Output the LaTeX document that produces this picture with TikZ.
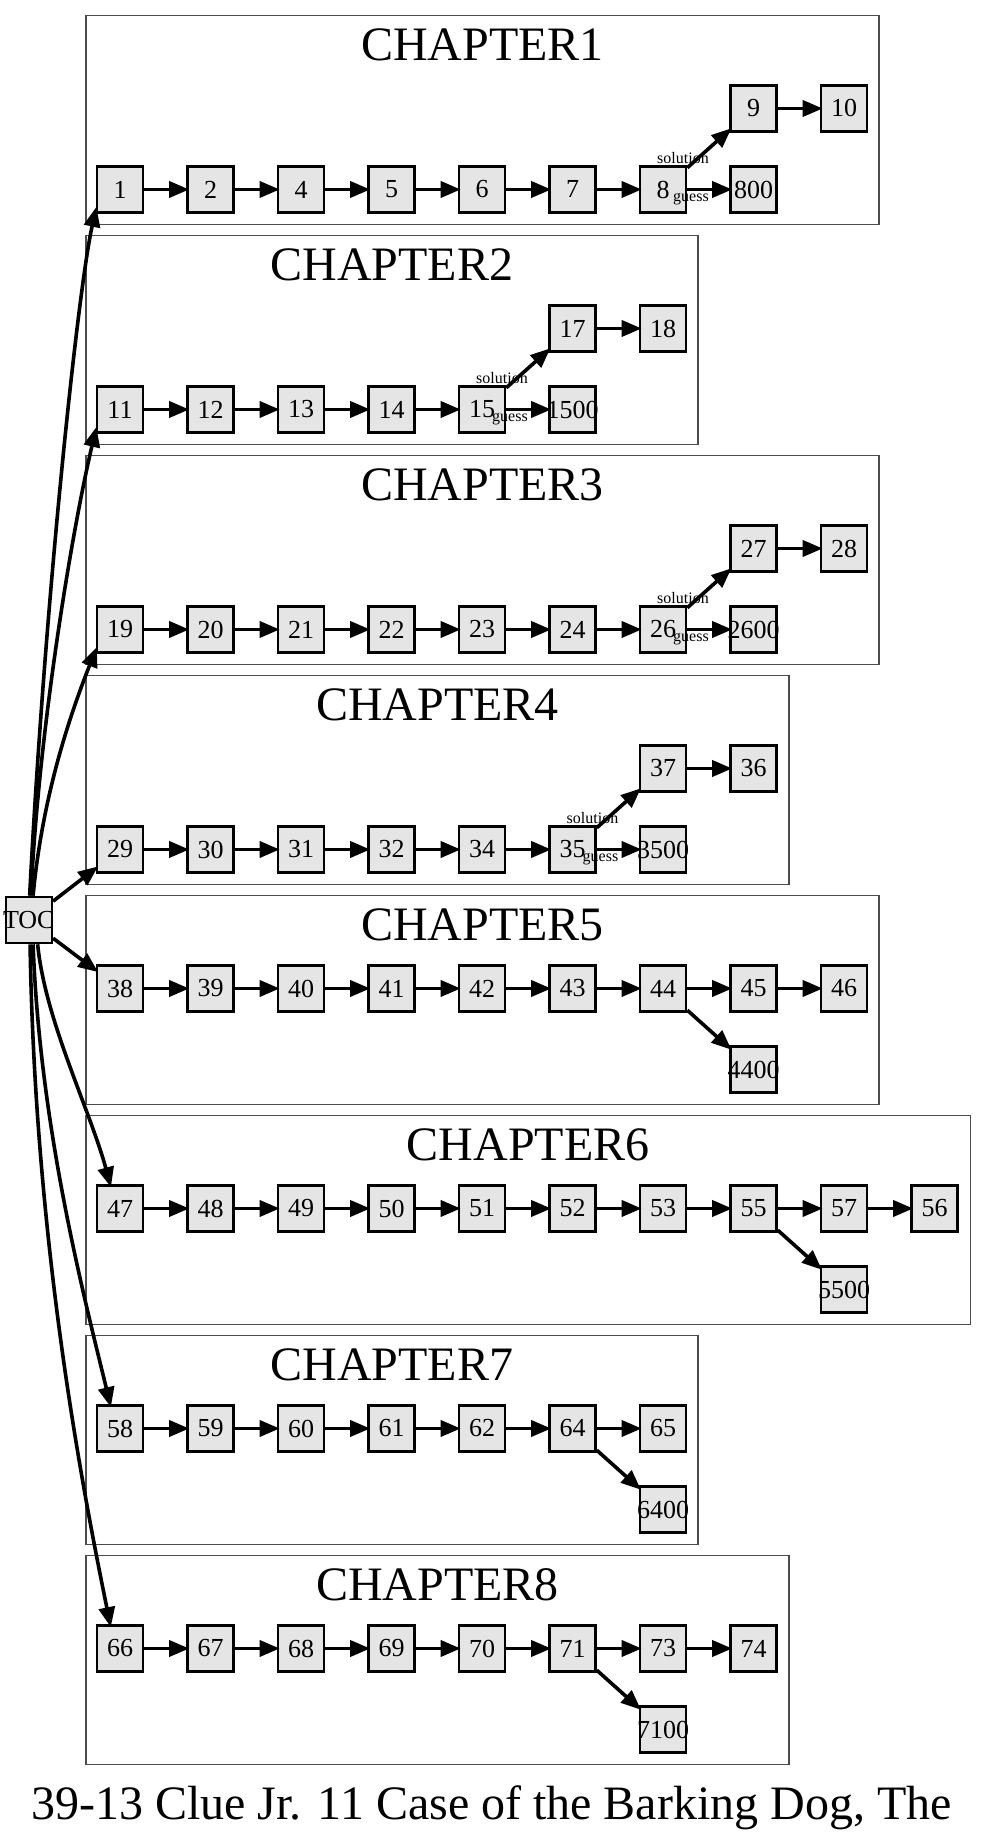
\documentclass[tikz,border=0pt]{standalone}
\usepackage{fontspec}
\setmainfont{Liberation Serif}
\usetikzlibrary{arrows.meta}
\tikzstyle{nS}=[rectangle,draw,fill=gray!20,line width=2.6pt,minimum size=46pt,inner sep=0pt,font=\fontsize{26}{26}\selectfont]
\tikzstyle{lNS}=[inner sep=0pt,font=\fontsize{16}{16}\selectfont]
\tikzstyle{tNS}=[inner sep=0pt,anchor=base,font=\fontsize{48}{48}\selectfont]
\tikzstyle{cBox}=[draw=black!70,line width=1.5pt]
\tikzstyle{eArr}=[line width=3.6pt,-{Triangle[length=20pt,width=16pt]},shorten >=-3pt]
\newcommand{\wlab}[1]{\makebox[0pt]{#1}}
\begin{document}
\begin{tikzpicture}[x=1pt,y=1pt]
                \fill[white] (0,0) rectangle (987,1840);
                \useasboundingbox (0,0) rectangle (987,1840);
                % chapter frames
                \draw[cBox] (86,1615.5) rectangle (879,1824.5);
                \draw[cBox] (86,1395.5) rectangle (698,1604.5);
                \draw[cBox] (86,1175.5) rectangle (879,1384.5);
                \draw[cBox] (86,955.5) rectangle (789,1164.5);
                \draw[cBox] (86,735.5) rectangle (879,944.5);
                \draw[cBox] (86,515.5) rectangle (970.5,724.5);
                \draw[cBox] (86,295.5) rectangle (698,504.5);
                \draw[cBox] (86,75.5) rectangle (789,284.5);
                \draw (482.5,1779) node[tNS] (t1) {CHAPTER1};
                \draw (392,1559) node[tNS] (t2) {CHAPTER2};
                \draw (482.5,1339) node[tNS] (t3) {CHAPTER3};
                \draw (437.5,1119) node[tNS] (t4) {CHAPTER4};
                \draw (482.5,899) node[tNS] (t5) {CHAPTER5};
                \draw (528.25,679) node[tNS] (t6) {CHAPTER6};
                \draw (392,459) node[tNS] (t7) {CHAPTER7};
                \draw (437.5,239) node[tNS] (t8) {CHAPTER8};
                % table of contents
                \draw (28.8,920) node[nS] (toc) {\wlab{TOC}};
                % chapter 1
                \draw (120,1650.5) node[nS] (n1) {1};
                \draw (210.5,1650.5) node[nS] (n2) {2};
                \draw (301,1650.5) node[nS] (n4) {4};
                \draw (391.5,1650.5) node[nS] (n5) {5};
                \draw (482,1650.5) node[nS] (n6) {6};
                \draw (572.5,1650.5) node[nS] (n7) {7};
                \draw (663,1650.5) node[nS] (n8) {8};
                \draw (753.5,1650.5) node[nS] (n800) {\wlab{800}};
                \draw (753.5,1731.5) node[nS] (n9) {9};
                \draw (844,1731.5) node[nS] (n10) {10};
                % chapter 2
                \draw (120,1430.5) node[nS] (n11) {11};
                \draw (210.5,1430.5) node[nS] (n12) {12};
                \draw (301,1430.5) node[nS] (n13) {13};
                \draw (391.5,1430.5) node[nS] (n14) {14};
                \draw (482,1430.5) node[nS] (n15) {15};
                \draw (572.5,1430.5) node[nS] (n1500) {\wlab{1500}};
                \draw (572.5,1511.5) node[nS] (n17) {17};
                \draw (663,1511.5) node[nS] (n18) {18};
                % chapter 3
                \draw (120,1210.5) node[nS] (n19) {19};
                \draw (210.5,1210.5) node[nS] (n20) {20};
                \draw (301,1210.5) node[nS] (n21) {21};
                \draw (391.5,1210.5) node[nS] (n22) {22};
                \draw (482,1210.5) node[nS] (n23) {23};
                \draw (572.5,1210.5) node[nS] (n24) {24};
                \draw (663,1210.5) node[nS] (n26) {26};
                \draw (753.5,1210.5) node[nS] (n2600) {\wlab{2600}};
                \draw (753.5,1291.5) node[nS] (n27) {27};
                \draw (844,1291.5) node[nS] (n28) {28};
                % chapter 4
                \draw (120,990.5) node[nS] (n29) {29};
                \draw (210.5,990.5) node[nS] (n30) {30};
                \draw (301,990.5) node[nS] (n31) {31};
                \draw (391.5,990.5) node[nS] (n32) {32};
                \draw (482,990.5) node[nS] (n34) {34};
                \draw (572.5,990.5) node[nS] (n35) {35};
                \draw (663,990.5) node[nS] (n3500) {\wlab{3500}};
                \draw (663,1071.5) node[nS] (n37) {37};
                \draw (753.5,1071.5) node[nS] (n36) {36};
                % chapter 5
                \draw (120,851.5) node[nS] (n38) {38};
                \draw (210.5,851.5) node[nS] (n39) {39};
                \draw (301,851.5) node[nS] (n40) {40};
                \draw (391.5,851.5) node[nS] (n41) {41};
                \draw (482,851.5) node[nS] (n42) {42};
                \draw (572.5,851.5) node[nS] (n43) {43};
                \draw (663,851.5) node[nS] (n44) {44};
                \draw (753.5,851.5) node[nS] (n45) {45};
                \draw (844,851.5) node[nS] (n46) {46};
                \draw (753.5,770.5) node[nS] (n4400) {\wlab{4400}};
                % chapter 6
                \draw (120,631.5) node[nS] (n47) {47};
                \draw (210.5,631.5) node[nS] (n48) {48};
                \draw (301,631.5) node[nS] (n49) {49};
                \draw (391.5,631.5) node[nS] (n50) {50};
                \draw (482,631.5) node[nS] (n51) {51};
                \draw (572.5,631.5) node[nS] (n52) {52};
                \draw (663,631.5) node[nS] (n53) {53};
                \draw (753.5,631.5) node[nS] (n55) {55};
                \draw (844,631.5) node[nS] (n57) {57};
                \draw (934.5,631.5) node[nS] (n56) {56};
                \draw (844,550.5) node[nS] (n5500) {\wlab{5500}};
                % chapter 7
                \draw (120,411.5) node[nS] (n58) {58};
                \draw (210.5,411.5) node[nS] (n59) {59};
                \draw (301,411.5) node[nS] (n60) {60};
                \draw (391.5,411.5) node[nS] (n61) {61};
                \draw (482,411.5) node[nS] (n62) {62};
                \draw (572.5,411.5) node[nS] (n64) {64};
                \draw (663,411.5) node[nS] (n65) {65};
                \draw (663,330.5) node[nS] (n6400) {\wlab{6400}};
                % chapter 8
                \draw (120,191.5) node[nS] (n66) {66};
                \draw (210.5,191.5) node[nS] (n67) {67};
                \draw (301,191.5) node[nS] (n68) {68};
                \draw (391.5,191.5) node[nS] (n69) {69};
                \draw (482,191.5) node[nS] (n70) {70};
                \draw (572.5,191.5) node[nS] (n71) {71};
                \draw (663,191.5) node[nS] (n73) {73};
                \draw (753.5,191.5) node[nS] (n74) {74};
                \draw (663,110.5) node[nS] (n7100) {\wlab{7100}};
                % branch labels
                \draw (683,1682) node[lNS] (s8) {solution};
                \draw (691,1641) node[lNS] (g8) {guess};
                \draw (502,1462) node[lNS] (s15) {solution};
                \draw (510,1421) node[lNS] (g15) {guess};
                \draw (683,1242) node[lNS] (s26) {solution};
                \draw (691,1201) node[lNS] (g26) {guess};
                \draw (592.5,1022) node[lNS] (s35) {solution};
                \draw (600.5,981) node[lNS] (g35) {guess};
                % caption
                \draw (491.5,20) node[tNS] (cap) {39-13 Clue Jr. 11 Case of the Barking Dog, The};
                \path
                    (n1) edge[eArr] (n2)
                    (n2) edge[eArr] (n4)
                    (n4) edge[eArr] (n5)
                    (n5) edge[eArr] (n6)
                    (n6) edge[eArr] (n7)
                    (n7) edge[eArr] (n8)
                    (n8) edge[eArr] (n9)
                    (n8) edge[eArr] (n800)
                    (n9) edge[eArr] (n10)
                    (n11) edge[eArr] (n12)
                    (n12) edge[eArr] (n13)
                    (n13) edge[eArr] (n14)
                    (n14) edge[eArr] (n15)
                    (n15) edge[eArr] (n17)
                    (n15) edge[eArr] (n1500)
                    (n17) edge[eArr] (n18)
                    (n19) edge[eArr] (n20)
                    (n20) edge[eArr] (n21)
                    (n21) edge[eArr] (n22)
                    (n22) edge[eArr] (n23)
                    (n23) edge[eArr] (n24)
                    (n24) edge[eArr] (n26)
                    (n26) edge[eArr] (n27)
                    (n26) edge[eArr] (n2600)
                    (n27) edge[eArr] (n28)
                    (n29) edge[eArr] (n30)
                    (n30) edge[eArr] (n31)
                    (n31) edge[eArr] (n32)
                    (n32) edge[eArr] (n34)
                    (n34) edge[eArr] (n35)
                    (n35) edge[eArr] (n37)
                    (n35) edge[eArr] (n3500)
                    (n37) edge[eArr] (n36)
                    (n38) edge[eArr] (n39)
                    (n39) edge[eArr] (n40)
                    (n40) edge[eArr] (n41)
                    (n41) edge[eArr] (n42)
                    (n42) edge[eArr] (n43)
                    (n43) edge[eArr] (n44)
                    (n44) edge[eArr] (n45)
                    (n44) edge[eArr] (n4400)
                    (n45) edge[eArr] (n46)
                    (n47) edge[eArr] (n48)
                    (n48) edge[eArr] (n49)
                    (n49) edge[eArr] (n50)
                    (n50) edge[eArr] (n51)
                    (n51) edge[eArr] (n52)
                    (n52) edge[eArr] (n53)
                    (n53) edge[eArr] (n55)
                    (n55) edge[eArr] (n57)
                    (n55) edge[eArr] (n5500)
                    (n57) edge[eArr] (n56)
                    (n58) edge[eArr] (n59)
                    (n59) edge[eArr] (n60)
                    (n60) edge[eArr] (n61)
                    (n61) edge[eArr] (n62)
                    (n62) edge[eArr] (n64)
                    (n64) edge[eArr] (n65)
                    (n64) edge[eArr] (n6400)
                    (n66) edge[eArr] (n67)
                    (n67) edge[eArr] (n68)
                    (n68) edge[eArr] (n69)
                    (n69) edge[eArr] (n70)
                    (n70) edge[eArr] (n71)
                    (n71) edge[eArr] (n73)
                    (n71) edge[eArr] (n7100)
                    (n73) edge[eArr] (n74)
                    (toc) edge[eArr] (n29)
                    (toc) edge[eArr] (n38)
                ;
                % curved links from the contents node
                \draw[eArr] (toc.88) .. controls (45,1240) and (78,1550) .. (n1.-140);
                \draw[eArr] (toc.85) .. controls (38,1100) and (70,1300) .. (n11.-140);
                \draw[eArr] (toc.80) .. controls (42,1040) and (68,1120) .. (n19.-140);
                \draw[eArr] (toc.-70) .. controls (45,820) and (90,730) .. (n47.112);
                \draw[eArr] (toc.-80) .. controls (40,710) and (85,540) .. (n58.112);
                \draw[eArr] (toc.-87) .. controls (35,590) and (85,340) .. (n66.112);
        \end{tikzpicture}
\end{document}
